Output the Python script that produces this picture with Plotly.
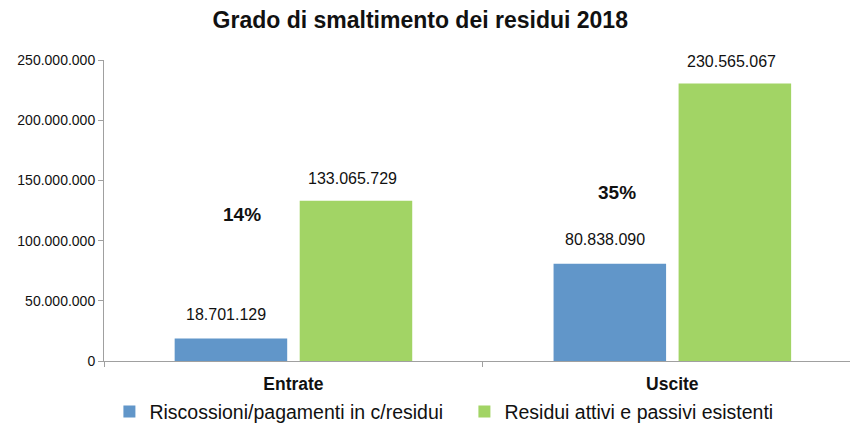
import plotly.graph_objects as go

categories = ["Entrate", "Uscite"]
riscossioni = [18701129, 80838090]
residui = [133065729, 230565067]
series_names = ["Riscossioni/pagamenti in c/residui", "Residui attivi e passivi esistenti"]
title = "Grado di smaltimento dei residui 2018"

BLUE = "#6196C9"
GREEN = "#A2D465"
FONT = "Liberation Sans, Arial, sans-serif"

def fmt(v):
    return f"{v:,}".replace(",", ".")

fig = go.Figure()
fig.add_bar(x=categories, y=riscossioni, name=series_names[0], marker_color=BLUE,
            marker_line_width=0)
fig.add_bar(x=categories, y=residui, name=series_names[1], marker_color=GREEN,
            marker_line_width=0)

annotations = []
pct_shift = [(-51, -14), (-55, -109)]
for i, c in enumerate(categories):
    annotations.append(dict(x=c, y=riscossioni[i], text=fmt(riscossioni[i]), xref="x", yref="y",
                            showarrow=False, xshift=-67, yshift=24, yanchor="middle",
                            font=dict(size=16, color="#111111", family=FONT)))
    annotations.append(dict(x=c, y=residui[i], text=fmt(residui[i]), xref="x", yref="y",
                            showarrow=False, xshift=59, yshift=22, yanchor="middle",
                            font=dict(size=16, color="#111111", family=FONT)))
    pct = round(riscossioni[i] / residui[i] * 100)
    annotations.append(dict(x=c, y=residui[i], text=f"<b>{pct}%</b>", xref="x", yref="y",
                            showarrow=False, xshift=pct_shift[i][0], yshift=pct_shift[i][1],
                            yanchor="middle",
                            font=dict(size=19, color="#111111", family=FONT)))

fig.update_layout(
    width=850, height=427,
    margin=dict(l=96, r=0, t=52, b=74),
    paper_bgcolor="white", plot_bgcolor="white",
    separators=",.",
    title=dict(text=f"<b>{title}</b>", x=0.485, xanchor="center", y=0.972, yanchor="middle",
               font=dict(size=23, color="#111111", family=FONT)),
    barmode="group", bargap=0.34, bargroupgap=0.1,
    font=dict(family=FONT, color="#111111"),
    showlegend=True,
    legend=dict(orientation="h", x=0.478, xanchor="center", y=-0.169, yanchor="middle",
                font=dict(size=19.5, family=FONT, color="#111111"), itemwidth=30,
                entrywidth=310, traceorder="normal"),
    annotations=annotations,
)
fig.update_yaxes(range=[0, 250000000], tickvals=[0, 50000000, 100000000, 150000000, 200000000, 250000000],
                 tickformat=",d", showgrid=False, zeroline=False,
                 showline=True, linecolor="#A0A0A0", linewidth=1,
                 ticks="outside", ticklen=5, tickcolor="#A0A0A0",
                 tickfont=dict(size=14, family=FONT, color="#111111"))
fig.update_xaxes(range=[-0.5, 1.49], showgrid=False, showline=True, linecolor="#A0A0A0", linewidth=1,
                 ticks="outside", ticklen=5, tickcolor="#A0A0A0", tickson="boundaries",
                 ticklabelstandoff=7,
                 tickfont=dict(size=17.5, family=FONT, color="#111111"),
                 tickvals=categories, ticktext=[f"<b>{c}</b>" for c in categories])

fig.write_html("out.html")
